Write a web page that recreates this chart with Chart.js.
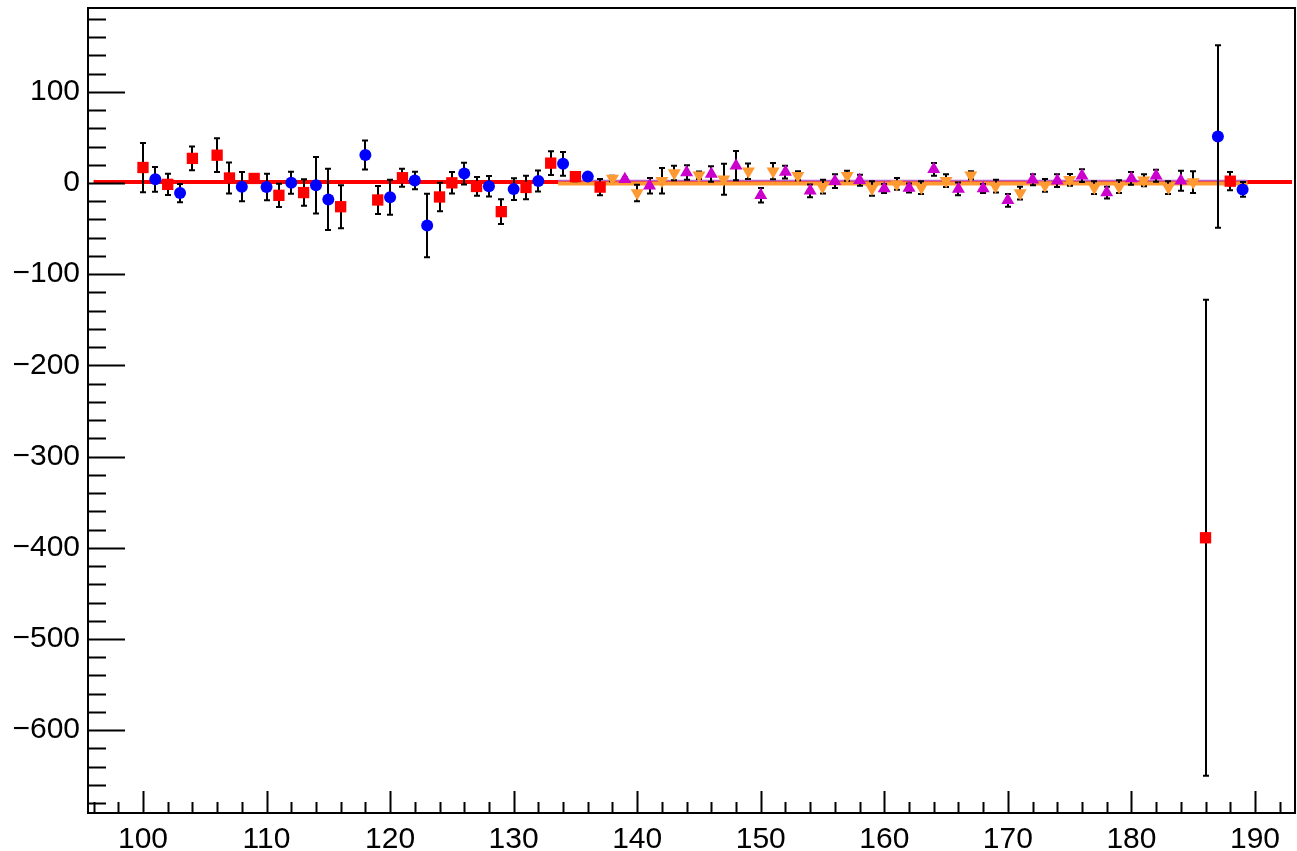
<!DOCTYPE html>
<html>
<head>
<meta charset="utf-8">
<script src="https://cdn.jsdelivr.net/npm/chart.js@4.4.1/dist/chart.umd.min.js"></script>
<style>
  html, body { margin: 0; padding: 0; background: #fff; }
  canvas { display: block; }
</style>
</head>
<body>
<canvas id="c" width="1297" height="851"></canvas>
<script>
// axis limits
const xMin = 95.55, xMax = 193.24;
const yMin = -690.8, yMax = 191.9;

// red squares
const redX   = [100, 102, 104, 106, 107, 109, 111, 113, 116, 119, 121, 124, 125, 127, 129, 131, 133, 135, 137, 186, 188];
const redY   = [17, -1.5, 27, 30.5, 5.5, 5, -13.5, -10.5, -26, -18.6, 5.8, -15.3, 0.2, -3.8, -31.4, -4.9, 21.8, 7, -4.5, -389, 2];
const redErr = [27, 11.6, 13, 18.5, 17, 3, 12.7, 14.5, 23.6, 15.4, 9.8, 15.7, 11.8, 10.3, 13.6, 12.9, 13, 5, 9, 261, 10];

// blue circles
const blueX   = [101, 103, 108, 110, 112, 114, 115, 118, 120, 122, 123, 126, 128, 130, 132, 134, 136, 187, 189];
const blueY   = [4, -11, -4, -4.4, 0.3, -2.5, -18, 30.7, -15.6, 2.7, -46.6, 10.3, -3.6, -6.7, 2.2, 21, 7, 51, -7];
const blueErr = [13.5, 10, 16, 14.5, 12, 31, 33.5, 16, 19.2, 9.6, 34.7, 11.8, 11.3, 11.8, 11.6, 13, 3, 100, 8];

// magenta up triangles
const magX   = [139, 141, 144, 146, 148, 150, 152, 154, 156, 158, 160, 162, 164, 166, 168, 170, 172, 174, 176, 178, 180, 182, 184];
const magY   = [4, -3, 11.5, 10, 19, -13.5, 12, -8.5, 2, 3, -6, -5.5, 15, -6.5, -6, -19, 3.5, 2.5, 8, -10.5, 5, 8, 2.5];
const magErr = [2, 8.5, 8, 8.5, 16, 8, 7, 7, 7.5, 6, 5, 5, 7, 7, 5, 7, 6, 7, 7, 6.5, 7, 6.5, 11];

// orange down triangles
const orgX   = [138, 140, 142, 143, 145, 147, 149, 151, 153, 155, 157, 159, 161, 163, 165, 167, 169, 171, 173, 175, 177, 179, 181, 183, 185];
const orgY   = [5, -11, 2.5, 11, 8.5, 4, 13, 13, 8, -4, 8, -6, -1, -5, 2.5, 8.5, -3.5, -11, -2.5, 3.5, -5, -4, 3, -5, 1];
const orgErr = [3, 9, 14, 8, 4, 17, 8.5, 9, 5, 7.5, 5.5, 8, 6.5, 7, 7, 4.5, 7, 7, 7, 6.5, 7, 7, 6.5, 7, 12];

// fit lines: [start, end] and constant level
const redFitX = [96, 193];      const redFitY = 1;
const orgFitX = [133.6, 189.4]; const orgFitY = -0.5;
const magFitX = [133.6, 189.4]; const magFitY = 2.8;

function pts(xs, ys) { return xs.map((x, i) => ({ x: x, y: ys[i] })); }
function flat(xs, c) { return xs.map(x => ({ x: x, y: c })); }

const fontSpec = { family: "'Liberation Sans', Arial, sans-serif", size: 30 };
const RIGHT_GAP = 2;

// error bars + ROOT style frame and ticks
const rootStyle = {
  id: 'rootStyle',
  afterLayout(chart) {
    // chart.js reserves a few px for the last x label; reclaim them
    const a = chart.chartArea, xs = chart.scales.x;
    a.right = chart.width - RIGHT_GAP;
    a.width = a.right - a.left;
    xs.right = a.right;
    xs.width = xs.right - xs.left;
    xs.configure();
  },
  beforeDatasetDraw(chart, args) {
    const ds = chart.data.datasets[args.index];
    if (!ds.errors) return;
    const ctx = chart.ctx, xs = chart.scales.x, ys = chart.scales.y;
    ctx.save();
    ctx.strokeStyle = '#000';
    ctx.lineWidth = 2;
    ds.data.forEach((p, i) => {
      const e = ds.errors[i];
      const px = Math.round(xs.getPixelForValue(p.x));
      const top = ys.getPixelForValue(p.y + e);
      const bot = ys.getPixelForValue(p.y - e);
      ctx.beginPath();
      ctx.moveTo(px, top); ctx.lineTo(px, bot);
      ctx.moveTo(px - 3, top); ctx.lineTo(px + 3, top);
      ctx.moveTo(px - 3, bot); ctx.lineTo(px + 3, bot);
      ctx.stroke();
    });
    ctx.restore();
  },
  afterDraw(chart) {
    const ctx = chart.ctx, a = chart.chartArea, xs = chart.scales.x, ys = chart.scales.y;
    ctx.save();
    ctx.strokeStyle = '#000';
    ctx.lineWidth = 2;
    ctx.strokeRect(a.left, a.top, a.right - a.left, a.bottom - a.top);
    ctx.beginPath();
    for (let v = -680; v <= 180; v += 20) {
      const py = Math.round(ys.getPixelForValue(v)) + 0.5;
      const len = (v % 100 === 0) ? 37 : 18;
      ctx.moveTo(a.left, py); ctx.lineTo(a.left + len, py);
    }
    for (let v = 96; v <= 192; v += 2) {
      const px = Math.round(xs.getPixelForValue(v)) + 0.5;
      const len = (v % 10 === 0) ? 22 : 11;
      ctx.moveTo(px, a.bottom); ctx.lineTo(px, a.bottom - len);
    }
    ctx.stroke();
    ctx.restore();
  }
};

new Chart(document.getElementById('c'), {
  type: 'scatter',
  data: {
    datasets: [
      { label: 'blue', data: pts(blueX, blueY), errors: blueErr, order: 1,
        pointStyle: 'circle', pointRadius: 6, backgroundColor: '#0000ff', borderWidth: 0 },
      { label: 'red', data: pts(redX, redY), errors: redErr, order: 2,
        pointStyle: 'rect', pointRadius: 8, backgroundColor: '#ff0000', borderWidth: 0 },
      { label: 'magenta', data: pts(magX, magY), errors: magErr, order: 3,
        pointStyle: 'triangle', pointRadius: 7.5, backgroundColor: '#cc00cc', borderWidth: 0 },
      { label: 'orange', data: pts(orgX, orgY), errors: orgErr, order: 4,
        pointStyle: 'triangle', rotation: 180, pointRadius: 7.5, backgroundColor: '#ff9a33', borderWidth: 0 },
      { label: 'magenta fit', data: flat(magFitX, magFitY), showLine: true, order: 5,
        borderColor: '#b860d0', borderWidth: 1.5, pointRadius: 0 },
      { label: 'orange fit', data: flat(orgFitX, orgFitY), showLine: true, order: 6,
        borderColor: '#ff9a33', borderWidth: 4, pointRadius: 0 },
      { label: 'red fit', data: flat(redFitX, redFitY), showLine: true, order: 7,
        borderColor: '#ff0000', borderWidth: 4, pointRadius: 0 }
    ]
  },
  options: {
    responsive: false,
    animation: false,
    layout: { padding: { top: 7, right: RIGHT_GAP, left: 0, bottom: 0 } },
    plugins: { legend: { display: false }, tooltip: { enabled: false } },
    scales: {
      x: {
        type: 'linear', min: xMin, max: xMax,
        afterFit(s) { s.height = 38; s.paddingLeft = 0; s.paddingRight = 0; },
        grid: { display: false, drawTicks: false },
        border: { display: false },
        ticks: { stepSize: 10, includeBounds: false, padding: 9, maxRotation: 0, color: '#000', font: fontSpec }
      },
      y: {
        type: 'linear', min: yMin, max: yMax,
        afterFit(s) { s.width = 88; s.paddingTop = 0; s.paddingBottom = 0; },
        grid: { display: false, drawTicks: false },
        border: { display: false },
        ticks: {
          stepSize: 100, includeBounds: false, padding: 8, color: '#000', font: fontSpec,
          callback: v => (v < 0 ? '\u2212' + Math.abs(v) : String(v))
        }
      }
    }
  },
  plugins: [rootStyle]
});
</script>
</body>
</html>
